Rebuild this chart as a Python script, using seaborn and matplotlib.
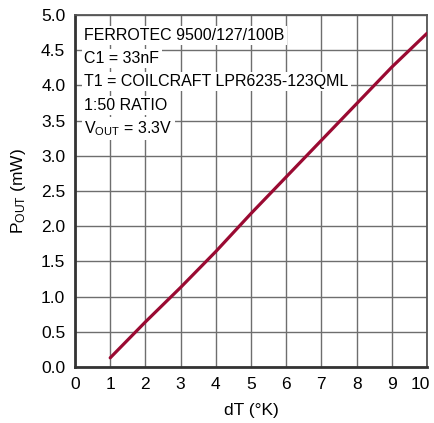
import numpy as np
import pandas as pd
import seaborn as sns
import matplotlib.pyplot as plt
from matplotlib.transforms import ScaledTranslation

# data
dt_k = [1, 2, 3, 4, 5, 6, 7, 8, 9, 10]
pout_mw = [0.13, 0.64, 1.13, 1.64, 2.18, 2.70, 3.22, 3.74, 4.26, 4.74]
x_ticks = [0, 1, 2, 3, 4, 5, 6, 7, 8, 9, 10]
y_ticks = [0, 0.5, 1.0, 1.5, 2.0, 2.5, 3.0, 3.5, 4.0, 4.5, 5.0]
notes = ["FERROTEC 9500/127/100B",
         "C1 = 33nF",
         "T1 = COILCRAFT LPR6235-123QML",
         "1:50 RATIO",
         "V$_{\\mathregular{OUT}}$ = 3.3V"]

sns.set_style("white")
plt.rcParams['font.family'] = ['Liberation Sans', 'DejaVu Sans']
plt.rcParams['mathtext.fontset'] = 'custom'
plt.rcParams['mathtext.rm'] = 'Liberation Sans'
plt.rcParams['mathtext.it'] = 'Liberation Sans'
plt.rcParams['text.color'] = 'black'
plt.rcParams['axes.labelcolor'] = 'black'
plt.rcParams['xtick.color'] = 'black'
plt.rcParams['ytick.color'] = 'black'

df = pd.DataFrame({"dT": dt_k, "Pout": pout_mw})

fig = plt.figure(figsize=(4.35, 4.23), dpi=100)
ax = fig.add_axes([0.1724, 0.1324, 0.8092, 0.8321])

sns.lineplot(data=df, x="dT", y="Pout", ax=ax, color="#9a0a32", linewidth=2.3, zorder=3)

ax.set_xlim(0, 10)
ax.set_ylim(0, 5.0)
ax.set_xticks(x_ticks)
ax.set_yticks(y_ticks)
ax.set_xticklabels([str(t) for t in x_ticks], fontsize=12.5)
ax.set_yticklabels([f"{t:.1f}" for t in y_ticks], fontsize=12.5)
ax.tick_params(length=0, pad=7)
ax.grid(True, color="#6e6e6e", linewidth=1.0, zorder=0)

# last x label sits a little inside the right edge, as in the original
last = ax.get_xticklabels()[-1]
last.set_transform(last.get_transform() + ScaledTranslation(-0.07, 0, fig.dpi_scale_trans))

for side in ["left", "bottom"]:
    ax.spines[side].set_color("#333333")
    ax.spines[side].set_linewidth(2.0)
for side in ["top", "right"]:
    ax.spines[side].set_color("#555555")
    ax.spines[side].set_linewidth(1.3)

ax.set_xlabel("dT (°K)", fontsize=12.5, labelpad=8)
ax.set_ylabel("P$_{\\mathregular{OUT}}$ (mW)", fontsize=12.5, labelpad=9)

for i, line in enumerate(notes):
    ax.text(0.27, 4.71 - i * 0.33, line, fontsize=11.5, va="center", ha="left",
            zorder=4, bbox=dict(facecolor="white", edgecolor="none", pad=1.5))

fig.savefig("out.png", dpi=100)
